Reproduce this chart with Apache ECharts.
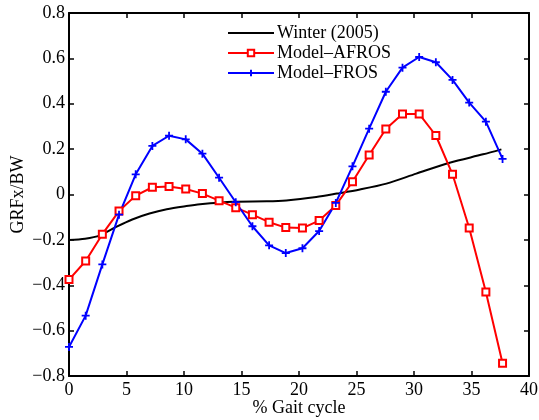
<!DOCTYPE html>
<html>
<head>
<meta charset="utf-8">
<script src="https://cdn.jsdelivr.net/npm/echarts@6/dist/echarts.min.js"></script>
<style>html,body{margin:0;padding:0;background:#fff}#c{width:539px;height:420px}</style>
</head>
<body>
<div id="c"></div>
<script>
var xTicks = [0, 5, 10, 15, 20, 25, 30, 35, 40];
var yTicks = [-0.8, -0.6, -0.4, -0.2, 0, 0.2, 0.4, 0.6, 0.8];

var winterX = [0, 1.4, 2.7, 4.1, 5.5, 7.0, 8.5, 10.2, 11.4, 14.3, 17.2, 18.9, 21.5, 23.3, 25.3, 27.6, 30.2, 33.1, 36.0, 37.6];
var winterY = [-0.2, -0.195, -0.18, -0.143, -0.11, -0.084, -0.065, -0.051, -0.043, -0.032, -0.03, -0.026, -0.011, 0.004, 0.022, 0.048, 0.092, 0.14, 0.177, 0.199];

var modelX = [0, 1.45, 2.9, 4.35, 5.8, 7.25, 8.7, 10.15, 11.6, 13.05, 14.5, 15.95, 17.4, 18.85, 20.3, 21.75, 23.2, 24.65, 26.1, 27.55, 29.0, 30.45, 31.9, 33.35, 34.8, 36.25, 37.7];
var afrosY = [-0.375, -0.293, -0.175, -0.073, -0.005, 0.032, 0.035, 0.024, 0.004, -0.027, -0.058, -0.089, -0.122, -0.146, -0.148, -0.115, -0.048, 0.056, 0.174, 0.289, 0.355, 0.355, 0.26, 0.089, -0.148, -0.43, -0.744];
var frosY = [-0.672, -0.534, -0.308, -0.089, 0.089, 0.214, 0.259, 0.243, 0.18, 0.074, -0.034, -0.14, -0.224, -0.258, -0.237, -0.161, -0.037, 0.124, 0.29, 0.453, 0.559, 0.606, 0.583, 0.505, 0.405, 0.321, 0.157];

function pairs(xs, ys) { return xs.map(function (x, i) { return [x, ys[i]]; }); }
function fmt(v) { return String(+v.toFixed(1)).replace('-', '\u2212'); }

var FONT = 'Liberation Serif';
var axisLine = { show: true, onZero: false, lineStyle: { color: '#000', width: 2 } };
var tick = { show: true, inside: true, length: 5, lineStyle: { color: '#000', width: 1.5 } };

var chart = echarts.init(document.getElementById('c'), null, { renderer: 'canvas' });
chart.setOption({
  animation: false,
  backgroundColor: '#fff',
  grid: { left: 69, right: 10, top: 13, bottom: 44, containLabel: false, outerBoundsMode: 'none' },
  legend: {
    orient: 'vertical', left: 222, top: 19, itemGap: 2, itemWidth: 46, itemHeight: 8,
    textStyle: { fontFamily: FONT, fontSize: 18, color: '#000', padding: [0, 0, 0, -2] },
    data: [
      { name: 'Winter (2005)', itemStyle: { opacity: 0 } },
      'Model\u2013AFROS',
      'Model\u2013FROS'
    ]
  },
  xAxis: [{
    type: 'value', min: 0, max: 40, interval: 5, position: 'bottom',
    name: '% Gait cycle', nameLocation: 'middle', nameGap: 23, nameMoveOverlap: false,
    nameTextStyle: { fontFamily: FONT, fontSize: 18, color: '#000' },
    axisLine: axisLine, axisTick: tick, splitLine: { show: false },
    axisLabel: { fontFamily: FONT, fontSize: 18, color: '#000', margin: 5, formatter: fmt }
  }, {
    type: 'value', min: 0, max: 40, interval: 5, position: 'top',
    axisLine: axisLine, axisTick: tick, splitLine: { show: false }, axisLabel: { show: false }
  }],
  yAxis: [{
    type: 'value', min: -0.8, max: 0.8, interval: 0.2, position: 'left',
    name: 'GRFx/BW', nameLocation: 'middle', nameGap: 42, nameMoveOverlap: false,
    nameTextStyle: { fontFamily: FONT, fontSize: 18, color: '#000' },
    axisLine: axisLine, axisTick: tick, splitLine: { show: false },
    axisLabel: { fontFamily: FONT, fontSize: 18, color: '#000', margin: 4, formatter: fmt }
  }, {
    type: 'value', min: -0.8, max: 0.8, interval: 0.2, position: 'right',
    axisLine: axisLine, axisTick: tick, splitLine: { show: false }, axisLabel: { show: false }
  }],
  series: [{
    name: 'Winter (2005)', type: 'line', data: pairs(winterX, winterY), smooth: 0.3,
    symbol: 'none', lineStyle: { color: '#000', width: 2 }, itemStyle: { color: '#000' }
  }, {
    name: 'Model\u2013AFROS', type: 'line', data: pairs(modelX, afrosY),
    symbol: 'emptyRect', symbolSize: 7, showAllSymbol: true,
    lineStyle: { color: '#ff0000', width: 2 },
    itemStyle: { color: '#ff0000', borderColor: '#ff0000', borderWidth: 1.5 }
  }, {
    name: 'Model\u2013FROS', type: 'line', data: pairs(modelX, frosY),
    symbol: 'path://M5,0L5,10M0,5L10,5', symbolSize: 8, showAllSymbol: true,
    lineStyle: { color: '#0000ff', width: 2 },
    itemStyle: { color: '#0000ff', borderColor: '#0000ff', borderWidth: 1.8 }
  }]
});
</script>
</body>
</html>
